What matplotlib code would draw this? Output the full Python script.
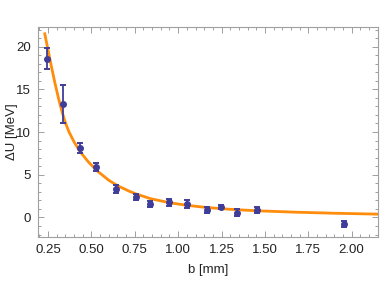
import matplotlib
matplotlib.use("Agg")
import matplotlib.pyplot as plt
from matplotlib.ticker import MultipleLocator

plt.rcParams['font.family'] = ['Liberation Sans', 'DejaVu Sans']

# measured points: b [mm], dU [MeV], error
b_data = [0.246, 0.336, 0.433, 0.525, 0.643, 0.757, 0.838, 0.947, 1.052, 1.164, 1.245, 1.337, 1.452, 1.957]
du_data = [18.6, 13.3, 8.15, 5.9, 3.3, 2.4, 1.6, 1.75, 1.55, 0.9, 1.22, 0.55, 0.85, -0.8]
du_err = [1.2, 2.2, 0.55, 0.5, 0.45, 0.38, 0.38, 0.45, 0.45, 0.33, 0.25, 0.38, 0.38, 0.38]

# fitted curve
b_fit = [0.231, 0.25, 0.27, 0.29, 0.31, 0.33, 0.35, 0.37, 0.40, 0.433, 0.48, 0.53, 0.60, 0.65,
         0.72, 0.76, 0.84, 0.95, 1.05, 1.16, 1.30, 1.45, 1.68, 1.90, 2.16]
du_fit = [21.5, 19.6, 17.6, 15.7, 13.96, 12.4, 11.08, 10.04, 8.84, 7.75, 6.55, 5.5, 4.35, 3.72,
          3.05, 2.73, 2.2, 1.72, 1.42, 1.17, 0.95, 0.78, 0.61, 0.49, 0.38]

fig = plt.figure(figsize=(3.82, 2.87), dpi=100)
ax = fig.add_axes([0.0995, 0.174, 0.89, 0.732])

ax.plot(b_fit, du_fit, color='#ff8c0a', lw=2.0, zorder=2)
ax.errorbar(b_data, du_data, yerr=du_err, fmt='o', color='#3f3d99', ms=4,
            elinewidth=1.3, capsize=2.5, capthick=1.4, zorder=3)

ax.set_xlim(0.192, 2.152)
ax.set_ylim(-2.3, 22.3)
ax.xaxis.set_major_locator(MultipleLocator(0.25))
ax.xaxis.set_minor_locator(MultipleLocator(0.05))
ax.yaxis.set_major_locator(MultipleLocator(5))
ax.yaxis.set_minor_locator(MultipleLocator(1))
ax.xaxis.set_major_formatter(matplotlib.ticker.FormatStrFormatter('%.2f'))

for s in ax.spines.values():
    s.set_color('#a0a0a0')
    s.set_linewidth(0.8)
ax.tick_params(which='both', direction='in', top=True, right=True, color='#a0a0a0',
               labelsize=9.5, labelcolor='#222222', width=0.7)
ax.tick_params(which='major', length=4, pad=5)
ax.tick_params(which='minor', length=2)

ax.set_xlabel('b [mm]', fontsize=9.5, color='#222222', labelpad=6)
ax.set_ylabel('ΔU [MeV]', fontsize=9.5, color='#222222')
ax.yaxis.set_label_coords(-0.06, 0.5)

fig.savefig('out.png', dpi=100)
